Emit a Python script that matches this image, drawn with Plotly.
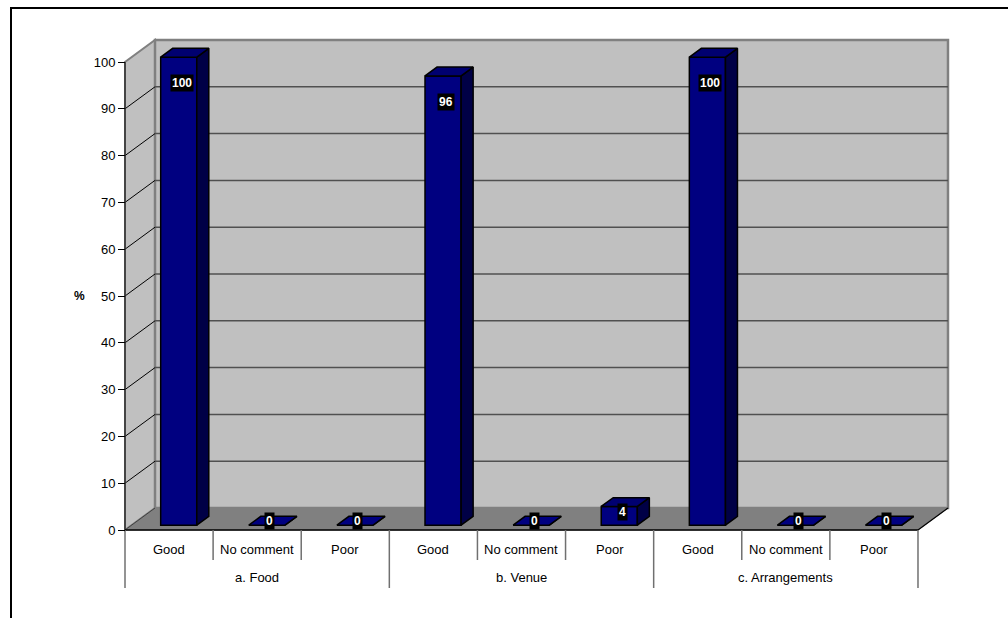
import plotly.graph_objects as go

# ---------------- data ----------------
groups = ["a. Food", "b. Venue", "c. Arrangements"]
responses = ["Good", "No comment", "Poor"]
food = [100, 0, 0]
venue = [96, 0, 4]
arrangements = [100, 0, 0]
y_ticks = list(range(0, 101, 10))
y_title = "%"

# ---------------- layout geometry (pixels) ----------------
W, H = 1008, 618
X0_PX, CAT_PX = 125, 88.11      # front-left corner of floor, width of one category
Y0_PX, UNIT_PX = 530, 4.68      # front floor line, pixels per percent
DEPTH_DX_PX, DEPTH_DY_PX = 30, 22

DX = DEPTH_DX_PX / CAT_PX       # depth offset in x data units
DY = DEPTH_DY_PX / UNIT_PX      # depth offset in y data units
D_FRONT, D_BACK = 0.22, 0.62    # bar depth span (fraction of full depth)
BAR_L, BAR_W = 0.33, 0.41       # bar position within category (front face)

values = food + venue + arrangements
n = len(values)
cat_labels = responses * len(groups)

FONT = "Liberation Sans, Arial, sans-serif"
WALL = "#C0C0C0"
FLOOR = "#808080"
FRONT = "#000080"
TOP = "#000070"
SIDE = "#000046"


def px_to_x(px):
    return (px - X0_PX) / CAT_PX


def px_to_y(py):
    return (Y0_PX - py) / UNIT_PX


fig = go.Figure()

shapes = []
# outer chart frame
shapes.append(dict(type="rect", xref="paper", yref="paper",
                   x0=11 / W, x1=1.2, y0=1 - 8 / H, y1=-0.2,
                   line=dict(color="black", width=2), layer="below"))
ymax = y_ticks[-1]
# left side wall
shapes.append(dict(type="path", xref="x", yref="y", layer="below",
                   path=f"M0,0 L0,{ymax} L{DX},{ymax + DY} L{DX},{DY} Z",
                   fillcolor=WALL, line=dict(color="#808080", width=2)))
# floor
shapes.append(dict(type="path", xref="x", yref="y", layer="below",
                   path=f"M0,0 L{n},0 L{n + DX},{DY} L{DX},{DY} Z",
                   fillcolor=FLOOR, line=dict(color="#808080", width=1)))
# back wall
shapes.append(dict(type="rect", xref="x", yref="y", layer="below",
                   x0=DX, x1=n + DX, y0=DY, y1=ymax + DY,
                   fillcolor=WALL, line=dict(color="#808080", width=2.5)))
# gridlines on back wall and diagonals on side wall
for v in y_ticks[1:-1]:
    shapes.append(dict(type="line", xref="x", yref="y", layer="below",
                       x0=DX, x1=n + DX, y0=v + DY, y1=v + DY,
                       line=dict(color="#505050", width=1.5)))
    shapes.append(dict(type="line", xref="x", yref="y", layer="below",
                       x0=0, x1=DX, y0=v, y1=v + DY,
                       line=dict(color="black", width=1)))
# floor-side diagonal at 0 and right floor edge
shapes.append(dict(type="line", xref="x", yref="y", layer="below",
                   x0=0, x1=DX, y0=0, y1=DY, line=dict(color="#404040", width=1)))
shapes.append(dict(type="line", xref="x", yref="y", layer="below",
                   x0=n, x1=n + DX, y0=0, y1=DY, line=dict(color="black", width=1.2)))
# front axis lines
shapes.append(dict(type="line", xref="x", yref="y", layer="below",
                   x0=0, x1=0, y0=0, y1=ymax, line=dict(color="#303030", width=1.5)))
shapes.append(dict(type="line", xref="x", yref="y", layer="below",
                   x0=0, x1=n, y0=0, y1=0, line=dict(color="black", width=1.5)))
# category dividers below axis
sub_len = 30 / UNIT_PX
grp_len = 58 / UNIT_PX
for k in range(n + 1):
    is_group = (k % len(responses) == 0)
    shapes.append(dict(type="line", xref="x", yref="y", layer="below",
                       x0=k, x1=k, y0=0, y1=-(grp_len if is_group else sub_len),
                       line=dict(color="#707070", width=1.5)))

# front faces of bars
base = D_FRONT * DY
x_front_left = [i + BAR_L + D_FRONT * DX for i in range(n)]
fig.add_trace(go.Bar(
    x=[xl + BAR_W / 2 for xl in x_front_left], y=values, base=base,
    width=BAR_W, marker=dict(color=FRONT, line=dict(color="black", width=1.5)),
    hoverinfo="skip", showlegend=False))

bdx = (D_BACK - D_FRONT) * DX
bdy = (D_BACK - D_FRONT) * DY
for i, v in enumerate(values):
    xl = x_front_left[i]
    xr = xl + BAR_W
    top = base + v
    # side face
    fig.add_trace(go.Scatter(
        x=[xr, xr, xr + bdx, xr + bdx, xr], y=[base, top, top + bdy, base + bdy, base],
        mode="lines", fill="toself", fillcolor=SIDE,
        line=dict(color="black", width=1.5), hoverinfo="skip", showlegend=False))
    # top face
    fig.add_trace(go.Scatter(
        x=[xl, xr, xr + bdx, xl + bdx, xl], y=[top, top, top + bdy, top + bdy, top],
        mode="lines", fill="toself", fillcolor=TOP if v > 0 else FRONT,
        line=dict(color="black", width=1.5), hoverinfo="skip", showlegend=False))

annotations = []
# data labels
for i, v in enumerate(values):
    annotations.append(dict(
        x=x_front_left[i] + BAR_W / 2 + 0.1 * DX, y=v + 2.0 - min(6.5, 0.55 * v),
        xref="x", yref="y", text=f"<b>{v}</b>", showarrow=False,
        font=dict(family=FONT, size=12, color="white"),
        bgcolor="black", borderpad=1))
# category labels
for i, lab in enumerate(cat_labels):
    annotations.append(dict(x=i + 0.5, y=px_to_y(549), xref="x", yref="y",
                            text=lab, showarrow=False,
                            font=dict(family=FONT, size=13, color="black")))
for g, lab in enumerate(groups):
    annotations.append(dict(x=g * len(responses) + len(responses) / 2, y=px_to_y(577),
                            xref="x", yref="y", text=lab, showarrow=False,
                            font=dict(family=FONT, size=13, color="black")))
# axis title
annotations.append(dict(x=px_to_x(79), y=50, xref="x", yref="y", text=f"<b>{y_title}</b>",
                        showarrow=False, font=dict(family=FONT, size=12, color="black")))

fig.update_layout(
    width=W, height=H, autosize=False,
    margin=dict(l=0, r=0, t=0, b=0),
    paper_bgcolor="white", plot_bgcolor="rgba(0,0,0,0)",
    shapes=shapes, annotations=annotations, showlegend=False,
    xaxis=dict(range=[px_to_x(0), px_to_x(W)], visible=False, fixedrange=True),
    yaxis=dict(range=[px_to_y(H), px_to_y(0)], anchor="free", position=X0_PX / W,
               tickvals=y_ticks, ticktext=[str(t) for t in y_ticks],
               ticks="outside", ticklen=7, tickcolor="black", tickwidth=1,
               showline=False, showgrid=False, zeroline=False, automargin=False,
               tickfont=dict(family=FONT, size=13, color="black"), fixedrange=True),
)

fig.write_html("out.html")
